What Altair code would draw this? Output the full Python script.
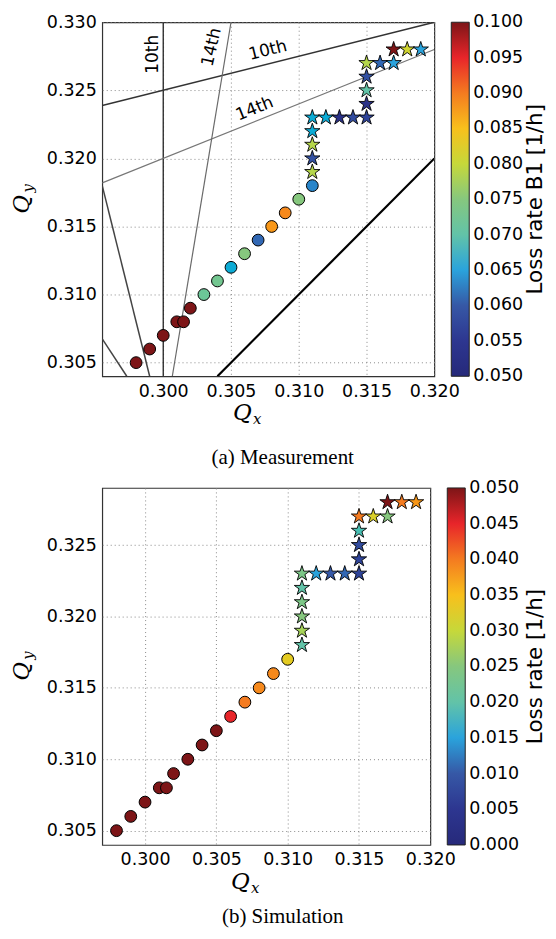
import altair as alt
import pandas as pd

# ---------------- (a) Measurement ----------------
meas_circle_qx = [0.298, 0.299, 0.300, 0.301, 0.3015, 0.302, 0.303, 0.304, 0.305, 0.306, 0.307, 0.308, 0.309, 0.310, 0.311]
meas_circle_qy = [0.305, 0.306, 0.307, 0.308, 0.308, 0.309, 0.310, 0.311, 0.312, 0.313, 0.314, 0.315, 0.316, 0.317, 0.318]
meas_circle_loss = [0.100, 0.100, 0.100, 0.100, 0.100, 0.100, 0.072, 0.073, 0.066, 0.075, 0.061, 0.088, 0.089, 0.075, 0.063]

meas_star_qx = [0.311, 0.311, 0.311, 0.311, 0.311, 0.312, 0.313, 0.314, 0.315, 0.315, 0.315, 0.315, 0.315, 0.316, 0.317, 0.317, 0.318, 0.319]
meas_star_qy = [0.319, 0.320, 0.321, 0.322, 0.323, 0.323, 0.323, 0.323, 0.323, 0.324, 0.325, 0.326, 0.327, 0.327, 0.327, 0.328, 0.328, 0.328]
meas_star_loss = [0.079, 0.059, 0.079, 0.066, 0.066, 0.066, 0.053, 0.058, 0.057, 0.053, 0.070, 0.059, 0.079, 0.061, 0.065, 0.100, 0.081, 0.065]

# resonance lines (segment end points)
res_x1 = [0.300, 0.2955, 0.2955, 0.30067, 0.2955, 0.2955, 0.304]
res_y1 = [0.304, 0.32388, 0.3182, 0.304, 0.318, 0.30675, 0.304]
res_x2 = [0.300, 0.320, 0.320, 0.305, 0.299, 0.29731, 0.320]
res_y2 = [0.330, 0.330, 0.328, 0.330, 0.304, 0.304, 0.320]

res_label_text = ["10th", "14th", "10th", "14th"]
res_label_qx = [0.29924, 0.30358, 0.30772, 0.30674]
res_label_qy = [0.32765, 0.32817, 0.32793, 0.32364]

# ---------------- (b) Simulation ----------------
sim_circle_qx = [0.298, 0.299, 0.300, 0.301, 0.3015, 0.302, 0.303, 0.304, 0.305, 0.306, 0.307, 0.308, 0.309, 0.310]
sim_circle_qy = [0.305, 0.306, 0.307, 0.308, 0.308, 0.309, 0.310, 0.311, 0.312, 0.313, 0.314, 0.315, 0.316, 0.317]
sim_circle_loss = [0.050, 0.050, 0.050, 0.050, 0.050, 0.050, 0.050, 0.050, 0.050, 0.045, 0.040, 0.039, 0.039, 0.033]

sim_star_qx = [0.311, 0.311, 0.311, 0.311, 0.311, 0.311, 0.312, 0.313, 0.314, 0.315, 0.315, 0.315, 0.315, 0.315, 0.316, 0.317, 0.317, 0.318, 0.319]
sim_star_qy = [0.318, 0.319, 0.320, 0.321, 0.322, 0.323, 0.323, 0.323, 0.323, 0.323, 0.324, 0.325, 0.326, 0.327, 0.327, 0.327, 0.328, 0.328, 0.328]
sim_star_loss = [0.020, 0.028, 0.025, 0.024, 0.020, 0.024, 0.015, 0.010, 0.011, 0.007, 0.007, 0.008, 0.019, 0.040, 0.032, 0.025, 0.050, 0.040, 0.038]

tick_q = [0.300, 0.305, 0.310, 0.315, 0.320]
tick_qy = [0.305, 0.310, 0.315, 0.320, 0.325, 0.330]
cbar_meas = [0.050, 0.055, 0.060, 0.065, 0.070, 0.075, 0.080, 0.085, 0.090, 0.095, 0.100]
cbar_sim = [0.000, 0.005, 0.010, 0.015, 0.020, 0.025, 0.030, 0.035, 0.040, 0.045, 0.050]

jet_like = ["#26297a", "#2d3690", "#3658a6", "#2aa3dc", "#62c3a8", "#86c77e",
            "#c6d83a", "#f8c01c", "#f47b20", "#e8252a", "#7d1517"]

STAR = ("M0,-1 L0.2245,-0.309 L0.951,-0.309 L0.363,0.118 L0.588,0.809 "
        "L0,0.382 L-0.588,0.809 L-0.363,0.118 L-0.951,-0.309 L-0.2245,-0.309 Z")

one = pd.DataFrame({"k": [0]})


def txt(text, x, y, size, angle=0, font="DejaVu Sans", style="normal", align="center"):
    return alt.Chart(one).mark_text(
        text=text, fontSize=size, angle=angle, font=font, fontStyle=style,
        align=align, baseline="middle", color="black"
    ).encode(x=alt.value(x), y=alt.value(y))


def panel(cqx, cqy, closs, sqx, sqy, sloss, xdom, ydom, cdom, cvals, w, h,
          cbar_title, caption, cap_dy, qx_dy, with_res):
    xs = alt.Scale(domain=xdom, nice=False, zero=False)
    ys = alt.Scale(domain=ydom, nice=False, zero=False)
    xax = alt.Axis(values=tick_q, format=".3f", title=None)
    yax = alt.Axis(values=tick_qy, format=".3f", title=None)
    cs = alt.Scale(domain=cdom, range=jet_like, clamp=True)
    # the inner colorbar labels come from the legend; the two end labels are
    # written as centred texts (Vega would push them inside the bar)
    leg = alt.Legend(title=None, orient="right", offset=17, padding=0,
                     gradientLength=h, gradientThickness=18,
                     gradientStrokeColor="#222", gradientStrokeWidth=1,
                     values=cvals[1:-1], format=".3f", labelFontSize=17.5,
                     labelFont="DejaVu Sans", labelColor="black",
                     labelOffset=4, labelOverlap=False,
                     direction="vertical")

    cdf = pd.DataFrame({"qx": cqx, "qy": cqy, "loss": closs})
    sdf = pd.DataFrame({"qx": sqx, "qy": sqy, "loss": sloss})

    layers = []
    if with_res:
        rdf = pd.DataFrame({"x1": res_x1, "y1": res_y1, "x2": res_x2, "y2": res_y2})
        styles = [("#222222", 1.3), ("#333333", 1.5), ("#777777", 1.2), ("#6a6a6a", 1.2),
                  ("#444444", 1.5), ("#444444", 1.5), ("#000000", 2.2)]
        for i, (col, sw) in enumerate(styles):
            layers.append(
                alt.Chart(rdf.iloc[[i]]).mark_rule(color=col, strokeWidth=sw, clip=True).encode(
                    x=alt.X("x1:Q", scale=xs, axis=xax),
                    y=alt.Y("y1:Q", scale=ys, axis=yax),
                    x2="x2:Q", y2="y2:Q")
            )
        ldf = pd.DataFrame({"qx": res_label_qx, "qy": res_label_qy, "t": res_label_text})
        for i, ang in enumerate([270, 283, 346, 338]):
            layers.append(
                alt.Chart(ldf.iloc[[i]]).mark_text(angle=ang, fontSize=17, font="DejaVu Sans",
                                                   color="black").encode(
                    x=alt.X("qx:Q", scale=xs, axis=xax),
                    y=alt.Y("qy:Q", scale=ys, axis=yax),
                    text="t:N")
            )

    layers.append(
        alt.Chart(cdf).mark_point(shape="circle", filled=True, size=140, opacity=1,
                                  stroke="black", strokeWidth=1).encode(
            x=alt.X("qx:Q", scale=xs, axis=xax),
            y=alt.Y("qy:Q", scale=ys, axis=yax),
            fill=alt.Fill("loss:Q", scale=cs, legend=leg))
    )
    layers.append(
        alt.Chart(sdf).mark_point(shape=STAR, filled=True, size=260, opacity=1,
                                  stroke="black", strokeWidth=0.9).encode(
            x=alt.X("qx:Q", scale=xs, axis=xax),
            y=alt.Y("qy:Q", scale=ys, axis=yax),
            fill=alt.Fill("loss:Q", scale=cs, legend=leg))
    )
    # axis titles  Q_x / Q_y (math style)
    layers.append(txt("Q", w / 2 - 26, h + qx_dy, 23, font="DejaVu Serif", style="italic"))
    layers.append(txt("x", w / 2 - 11, h + qx_dy + 6, 15, font="DejaVu Serif", style="italic"))
    layers.append(txt("Q", -80, h / 2 + 5, 23, angle=270, font="DejaVu Serif", style="italic"))
    layers.append(txt("y", -74, h / 2 - 11, 15, angle=270, font="DejaVu Serif", style="italic"))
    # colorbar end labels
    layers.append(txt(f"{cvals[-1]:.3f}", w + 39, 0, 17.5, align="left"))
    layers.append(txt(f"{cvals[0]:.3f}", w + 39, h, 17.5, align="left"))
    # colorbar title
    layers.append(txt(cbar_title, 435, h / 2, 21.5, angle=270))
    # caption
    layers.append(txt(caption, 181, h + cap_dy, 21, font="Liberation Serif"))

    return alt.layer(*layers).properties(width=w, height=h)


top = panel(meas_circle_qx, meas_circle_qy, meas_circle_loss,
            meas_star_qx, meas_star_qy, meas_star_loss,
            [0.2955, 0.320], [0.304, 0.330], [0.05, 0.10], cbar_meas, 333, 355,
            "Loss rate B1 [1/h]", "(a) Measurement", 82, 37, True)
bottom = panel(sim_circle_qx, sim_circle_qy, sim_circle_loss,
               sim_star_qx, sim_star_qy, sim_star_loss,
               [0.297, 0.320], [0.304, 0.329], [0.0, 0.05], cbar_sim, 329, 358,
               "Loss rate [1/h]", "(b) Simulation", 72.5, 37, False)

chart = alt.vconcat(top, bottom, spacing=9).resolve_scale(
    x="independent", y="independent", fill="independent"
).properties(
    padding={"left": 2.5, "top": 3, "right": 0, "bottom": 0}
).configure_view(
    stroke="#333333", strokeWidth=1.2
).configure_axis(
    grid=True, gridDash=[1, 3], gridColor="#8a8a8a", gridWidth=1,
    labelFont="DejaVu Sans", labelFontSize=17.5, labelColor="black",
    labelFontWeight="normal", labelOverlap=False, labelFlush=False,
    domain=False, ticks=False, labelPadding=6
)

chart.save("out.html", embed_options={"renderer": "svg", "actions": False})
